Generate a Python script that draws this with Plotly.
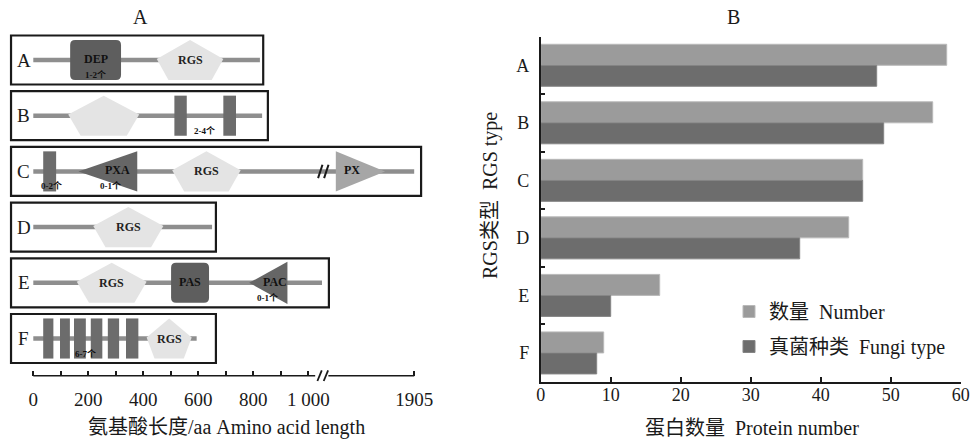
import plotly.graph_objects as go

# ================= Panel B data =================
rgs_types = ["A", "B", "C", "D", "E", "F"]
protein_number = [58, 56, 46, 44, 17, 9]
fungi_type = [48, 49, 46, 37, 10, 8]
b_xticks = [0, 10, 20, 30, 40, 50, 60]

# ================= Panel A data (amino-acid positions) =================
row_names = ["A", "B", "C", "D", "E", "F"]
protein_length = [824, 832, 1905, 650, 1117, 594]
box_end = [836, 853, 1964, 664, 1176, 664]

rgs_row = [0, 1, 2, 3, 4, 5]
rgs_start = [449, 127, 505, 218, 158, 412]
rgs_end = [691, 385, 754, 473, 412, 576]
rgs_label = ["RGS", "", "RGS", "RGS", "RGS", "RGS"]

rbox_row = [0, 4]
rbox_start = [134, 501]
rbox_end = [319, 639]
rbox_label = ["DEP", "PAS"]

bar_row = [1, 1, 2, 5, 5, 5, 5, 5, 5]
bar_start = [513, 691, 36, 36, 97, 148, 209, 271, 337]
bar_end = [558, 737, 83, 73, 133, 191, 251, 312, 382]

tri_row = [2, 2, 4]
tri_base = [378, 1235, 924]
tri_apex = [164, 1656, 785]
tri_label = ["PXA", "PX", "PAC"]

count_row = [0, 1, 2, 2, 4, 5]
count_pos = [225, 624, 67, 282, 852, 188]
count_text = ["1-2个", "2-4个", "0-2个", "0-1个", "0-1个", "6-7个"]

break_row = 2
break_pos = 1128

a_tickvals = [0, 100, 200, 300, 400, 500, 600, 700, 800, 900, 1000, 1905]
a_ticktext = ["0", "", "200", "", "400", "", "600", "", "800", "", "1 000", "1905"]

# ================= scale helpers =================
AXIS_BREAK = 1000
COMPRESS = 385 / 905


def tx(aa):
    """amino-acid position -> panel A axis coordinate (axis compressed after the break)"""
    return aa if aa <= AXIS_BREAK else AXIS_BREAK + (aa - AXIS_BREAK) * COMPRESS


SERIF = "Liberation Serif, Noto Sans CJK SC, serif"
LINE_GREY = "#8e8e8e"
DARK = "#5e5e5e"
TRI_DARK = "#666666"
LIGHT_RGS = "#e4e4e4"
PX_GREY = "#a6a6a6"
BAR_GREY = "#6c6c6c"
INK = "#1a1a1a"

fig = go.Figure()

# ---------------- Panel B bars ----------------
fig.add_trace(go.Bar(
    y=rgs_types, x=protein_number, orientation="h", name="数量\u00a0\u00a0Number",
    marker=dict(color="#9b9b9b", line=dict(color="#b9b9b9", width=1)),
    xaxis="x2", yaxis="y2", legendgroup="n"))
fig.add_trace(go.Bar(
    y=rgs_types, x=fungi_type, orientation="h", name="真菌种类\u00a0\u00a0Fungi type",
    marker=dict(color="#6d6d6d", line=dict(color="#858585", width=1)),
    xaxis="x2", yaxis="y2", legendgroup="f"))

# ---------------- Panel A drawings ----------------
shapes = []
annots = []
H = 0.36      # domain half height (row units)
BOXH = 0.44   # row box half height


def path(points):
    return "M " + " L ".join(f"{x},{y}" for x, y in points) + " Z"


for r, name in enumerate(row_names):
    shapes.append(dict(type="rect", xref="x", yref="y", x0=-81, x1=tx(box_end[r]),
                       y0=r - BOXH, y1=r + BOXH, line=dict(color=INK, width=2.2),
                       fillcolor="rgba(0,0,0,0)", layer="above"))
    shapes.append(dict(type="line", xref="x", yref="y", x0=0, x1=tx(protein_length[r]),
                       y0=r, y1=r, line=dict(color=LINE_GREY, width=4.5), layer="below"))
    annots.append(dict(x=-35, y=r, xref="x", yref="y", text=name, showarrow=False,
                       font=dict(family=SERIF, size=19, color=INK)))

for r, s, e, lab in zip(rgs_row, rgs_start, rgs_end, rgs_label):
    x0, x1 = tx(s), tx(e)
    w = x1 - x0
    pts = [((x0 + x1) / 2, r - H), (x1, r - 0.02), (x1 - 0.175 * w, r + H),
           (x0 + 0.175 * w, r + H), (x0, r - 0.02)]
    shapes.append(dict(type="path", xref="x", yref="y", path=path(pts),
                       fillcolor=LIGHT_RGS, line=dict(width=0)))
    if lab:
        annots.append(dict(x=(x0 + x1) / 2, y=r, xref="x", yref="y", text=f"<b>{lab}</b>",
                           showarrow=False, font=dict(family=SERIF, size=12, color="#222")))

RX, RY = 18, 0.09
for r, s, e, lab in zip(rbox_row, rbox_start, rbox_end, rbox_label):
    x0, x1 = tx(s), tx(e)
    y0, y1 = r - H, r + H
    p = (f"M {x0+RX},{y0} L {x1-RX},{y0} Q {x1},{y0} {x1},{y0+RY} "
         f"L {x1},{y1-RY} Q {x1},{y1} {x1-RX},{y1} L {x0+RX},{y1} "
         f"Q {x0},{y1} {x0},{y1-RY} L {x0},{y0+RY} Q {x0},{y0} {x0+RX},{y0} Z")
    shapes.append(dict(type="path", xref="x", yref="y", path=p,
                       fillcolor=DARK, line=dict(width=0)))
    annots.append(dict(x=(x0 + x1) / 2, y=r - 0.02, xref="x", yref="y", text=f"<b>{lab}</b>",
                       showarrow=False, font=dict(family=SERIF, size=12, color="#111")))

for r, s, e in zip(bar_row, bar_start, bar_end):
    shapes.append(dict(type="rect", xref="x", yref="y", x0=tx(s), x1=tx(e),
                       y0=r - H, y1=r + H, fillcolor=BAR_GREY, line=dict(width=0)))

for r, b, a, lab in zip(tri_row, tri_base, tri_apex, tri_label):
    xb, xa = tx(b), tx(a)
    hh = H if lab != "PAC" else 0.38
    pts = [(xa, r), (xb, r - hh), (xb, r + hh)]
    col = PX_GREY if lab == "PX" else TRI_DARK
    shapes.append(dict(type="path", xref="x", yref="y", path=path(pts),
                       fillcolor=col, line=dict(width=0)))
    annots.append(dict(x=xb + (xa - xb) / 3, y=r - 0.02, xref="x", yref="y",
                       text=f"<b>{lab}</b>", showarrow=False,
                       font=dict(family=SERIF, size=12, color="#111")))

for r, p_, t in zip(count_row, count_pos, count_text):
    annots.append(dict(x=tx(p_), y=r + 0.27, xref="x", yref="y", text=f"<b>{t}</b>",
                       showarrow=False, font=dict(family=SERIF, size=9, color="#111")))

bc = tx(break_pos)
for dx in (-11, 11):
    shapes.append(dict(type="line", xref="x", yref="y", x0=bc + dx - 8, x1=bc + dx + 8,
                       y0=break_row + 0.12, y1=break_row - 0.12,
                       line=dict(color=INK, width=2)))

AX_Y = 0.15
shapes.append(dict(type="line", xref="x", yref="paper", x0=0, x1=tx(AXIS_BREAK) + 25,
                   y0=AX_Y, y1=AX_Y, line=dict(color=INK, width=1.6)))
shapes.append(dict(type="line", xref="x", yref="paper", x0=tx(AXIS_BREAK) + 73, x1=tx(1905),
                   y0=AX_Y, y1=AX_Y, line=dict(color=INK, width=1.6)))
for cx in (tx(AXIS_BREAK) + 41, tx(AXIS_BREAK) + 64):
    shapes.append(dict(type="line", xref="x", yref="paper", x0=cx - 8, x1=cx + 8,
                       y0=AX_Y - 0.012, y1=AX_Y + 0.012, line=dict(color=INK, width=1.8)))

C = dict(xref="paper", yref="paper", showarrow=False,
         font=dict(family=SERIF, size=20, color=INK), xanchor="center", yanchor="middle")
annots += [
    dict(x=140 / 971, y=1 - 17 / 442, text="A", **C),
    dict(x=733 / 971, y=1 - 17 / 442, text="B", **C),
    dict(x=226 / 971, y=1 - 427 / 442, text="氨基酸长度/aa\u00a0Amino\u00a0acid\u00a0length", **C),
    dict(x=752 / 971, y=1 - 428 / 442, text="蛋白数量\u00a0\u00a0Protein\u00a0number", **C),
    dict(x=490 / 971, y=1 - 195 / 442, text="RGS类型\u00a0\u00a0RGS\u00a0type", textangle=-90, **C),
]

fig.update_layout(
    width=971, height=442,
    margin=dict(l=0, r=0, t=0, b=0, pad=0, autoexpand=False),
    paper_bgcolor="white", plot_bgcolor="white",
    barmode="group", bargap=0.27, bargroupgap=0,
    showlegend=True,
    legend=dict(x=729 / 971, y=1 - 329 / 442, xanchor="left", yanchor="middle",
                traceorder="grouped", tracegroupgap=6,
                font=dict(family=SERIF, size=20, color=INK),
                bgcolor="rgba(0,0,0,0)"),
    xaxis=dict(domain=[0, 430 / 971], range=[-121.1, 1442.5], anchor="free", position=AX_Y,
               showgrid=False, zeroline=False, showline=False, automargin=False,
               tickmode="array", tickvals=[tx(v) for v in a_tickvals], ticktext=a_ticktext,
               ticks="inside", ticklen=5, tickwidth=1.5, tickcolor=INK,
               ticklabelstandoff=10,
               tickfont=dict(family=SERIF, size=19, color=INK), fixedrange=True),
    yaxis=dict(domain=[0, 1], range=[(442 - 60) / 55.7, -60 / 55.7], visible=False,
               anchor="x", fixedrange=True, automargin=False),
    xaxis2=dict(domain=[540.7 / 971, 960.7 / 971], range=[0, 60], anchor="y2",
                tickmode="array", tickvals=b_xticks, automargin=False,
                showgrid=False, zeroline=False, showline=True, linecolor=INK, linewidth=1.5,
                ticks="inside", ticklen=5, tickwidth=1.5, tickcolor=INK,
                ticklabelstandoff=-4,
                tickfont=dict(family=SERIF, size=18, color=INK)),
    yaxis2=dict(domain=[(442 - 381.7) / 442, (442 - 36.5) / 442], anchor="x2",
                autorange="reversed", type="category", automargin=False,
                showgrid=False, zeroline=False, showline=True, linecolor=INK, linewidth=1.5,
                ticks="inside", tickson="boundaries", ticklen=5, tickwidth=1.5, tickcolor=INK,
                ticklabelstandoff=6,
                tickfont=dict(family=SERIF, size=18, color=INK)),
    shapes=shapes,
    annotations=annots,
)

fig.write_html("out.html", config={"displayModeBar": False},
               post_script="document.body.style.margin='0px';")
